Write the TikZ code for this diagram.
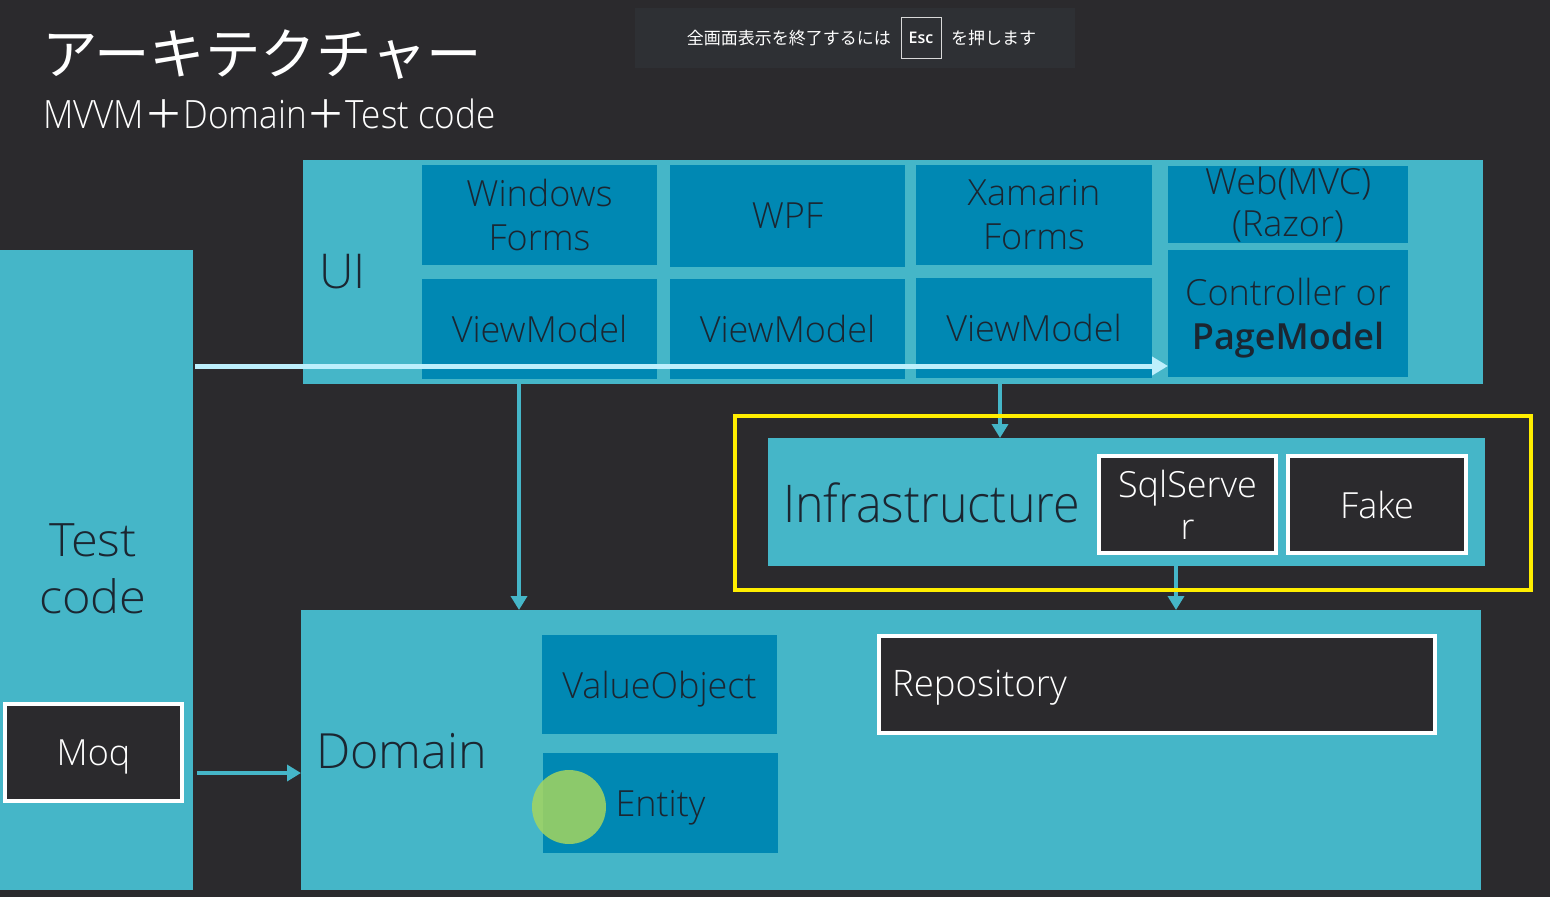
\documentclass[tikz,border=0pt]{standalone}
\usepackage{fontspec}
\setmainfont{Open Sans}[UprightFont=* Light, BoldFont=* Semibold]
\newfontfamily\widefont{Open Sans}[UprightFont=* Light, FakeStretch=1.06]
\newfontfamily\condfont{Open Sans}[UprightFont=* Light, FakeStretch=0.93]
\newfontfamily\subfont{Open Sans}[UprightFont=* Light, FakeStretch=0.90]
\newfontfamily\cjk{Noto Sans CJK JP}
\usetikzlibrary{arrows.meta}
\definecolor{bgc}{HTML}{2B2A2D}
\definecolor{bannerc}{HTML}{2E3034}
\definecolor{tealc}{HTML}{45B6C8}
\definecolor{tilec}{HTML}{0088B3}
\definecolor{txtc}{HTML}{1B2631}
\definecolor{lightc}{HTML}{BDEFFC}
\definecolor{yelc}{HTML}{FFEE00}
\definecolor{dotc}{HTML}{A5D55F}
\tikzset{
  layer/.style={fill=tealc, inner sep=0pt, outer sep=0pt},
  tile/.style={fill=tilec, inner sep=0pt, outer sep=0pt, text=txtc, align=center,
    font=\fontsize{36}{44}\selectfont},
  oneline/.style={text depth=0pt},
  darkbox/.style={fill=bgc, draw=white, line width=4pt, inner sep=0pt, text=white, align=center,
    font=\fontsize{36}{42}\selectfont},
  lbl/.style={text=txtc, inner sep=0pt, anchor=west},
  conn/.style={draw=tealc, line width=4pt, -{Triangle[length=14pt,width=16pt]}},
  lightconn/.style={draw=lightc, line width=5pt, -{Triangle[length=16pt,width=18pt]}},
}
\begin{document}
\begin{tikzpicture}[x=1pt,y=-1pt]
\fill[bgc] (0,0) rectangle (1550,897);
\useasboundingbox (0,0) rectangle (1550,897);

% banner
\node[fill=bannerc, minimum width=440pt, minimum height=60pt, inner sep=0pt] (banner) at (855,38) {};
\node[text=white, inner sep=0pt, anchor=east, font=\cjk\fontsize{17}{20}\selectfont] (msg1) at (891,38) {全画面表示を終了するには};
\node[draw=white!85!black, line width=1pt, minimum width=40pt, minimum height=41pt, inner sep=0pt, text=white, font=\bfseries\fontsize{16}{18}\selectfont] (esc) at (921,37.5) {Esc};
\node[text=white, inner sep=0pt, anchor=west, font=\cjk\fontsize{17}{20}\selectfont] (msg2) at (951,38) {を押します};

% titles
\node[text=white, inner sep=0pt, anchor=west, font=\cjk\fontsize{55.5}{60}\selectfont] (title) at (42,55) {アーキテクチャー};
\node[text=white, inner sep=0pt, anchor=west, font=\subfont\fontsize{39}{46}\selectfont] (subtitle) at (43,114) {MVVM{\cjk ＋}Domain{\cjk ＋}Test code};

% test code column
\node[layer, minimum width=193pt, minimum height=640pt] (testcol) at (96.5,570) {};
\node[text=txtc, inner sep=0pt, align=center, font=\widefont\fontsize{46}{57}\selectfont] (testlbl) at (93,569) {Test\\code};
\node[darkbox, oneline, minimum width=177pt, minimum height=97pt, font=\fontsize{36}{42}\selectfont] (moq) at (93.5,752.5) {Moq};

% UI layer
\node[layer, minimum width=1180pt, minimum height=224pt] (ui) at (893,272) {};
\node[lbl, font=\fontsize{48}{52}\selectfont] (uilbl) at (319,272) {UI};
\node[tile, minimum width=235pt, minimum height=100pt] (winforms) at (539.5,215) {Windows\\Forms};
\node[tile, oneline, minimum width=235pt, minimum height=100pt] (vm1) at (539.5,329) {ViewModel};
\node[tile, oneline, minimum width=235pt, minimum height=102pt] (wpf) at (787.5,216) {WPF};
\node[tile, oneline, minimum width=235pt, minimum height=100pt] (vm2) at (787.5,329) {ViewModel};
\node[tile, minimum width=236pt, minimum height=100pt] (xam) at (1034,215) {Xamarin\\Forms};
\node[tile, oneline, minimum width=236pt, minimum height=100pt] (vm3) at (1034,328) {ViewModel};
\node[tile, minimum width=240pt, minimum height=77pt, font=\fontsize{36}{42}\selectfont] (web) at (1288,204.5) {Web(MVC)\\(Razor)};
\node[tile, oneline, minimum width=240pt, minimum height=127pt] (ctrl) at (1288,313.5) {Controller or\\{\bfseries PageModel}};

% Infrastructure
\node[layer, minimum width=717pt, minimum height=128pt] (infra) at (1126.5,502) {};
\node[lbl, font=\condfont\fontsize{52}{56}\selectfont] (infralbl) at (783,503) {Infrastructure};
\node[darkbox, minimum width=177pt, minimum height=97pt] (sql) at (1187.5,504.5) {SqlServe\\r};
\node[darkbox, oneline, minimum width=178pt, minimum height=97pt] (fake) at (1377,504.5) {Fake};

% Domain
\node[layer, minimum width=1180pt, minimum height=280pt] (domain) at (891,750) {};
\node[lbl, font=\fontsize{48.5}{54}\selectfont] (domlbl) at (316,751) {Domain};
\node[tile, oneline, minimum width=235pt, minimum height=99pt] (vo) at (659.5,684.5) {ValueObject};
\node[tile, oneline, minimum width=235pt, minimum height=100pt] (entity) at (660.5,803) {Entity};
\node[darkbox, minimum width=556pt, minimum height=97pt] (repo) at (1157,684.5) {};
\node[inner sep=0pt, anchor=west, text=white, font=\fontsize{36.5}{42}\selectfont] (repolbl) at (892,688) {Repository};

% connectors
\coordinate (a1) at (519,0);
\coordinate (a2) at (1000,0);
\coordinate (a3) at (1176,0);
\coordinate (a4) at (0,773);
\coordinate (la) at (195,366);
\draw[conn] (ui.south -| a1) -- (domain.north -| a1);
\draw[conn] (ui.south -| a2) -- (infra.north -| a2);
\draw[conn] (infra.south -| a3) -- (domain.north -| a3);
\draw[conn] ([xshift=4pt]testcol.east |- a4) -- (domain.west |- a4);
\draw[lightconn] (la) -- (ctrl.west |- la);

% highlight
\node[draw=yelc, line width=4pt, minimum width=796pt, minimum height=174pt, inner sep=0pt] (hl) at (1133,503) {};
\node[circle, fill=dotc, opacity=0.85, minimum size=74pt, inner sep=0pt] (dot) at (569,807) {};
\end{tikzpicture}
\end{document}
